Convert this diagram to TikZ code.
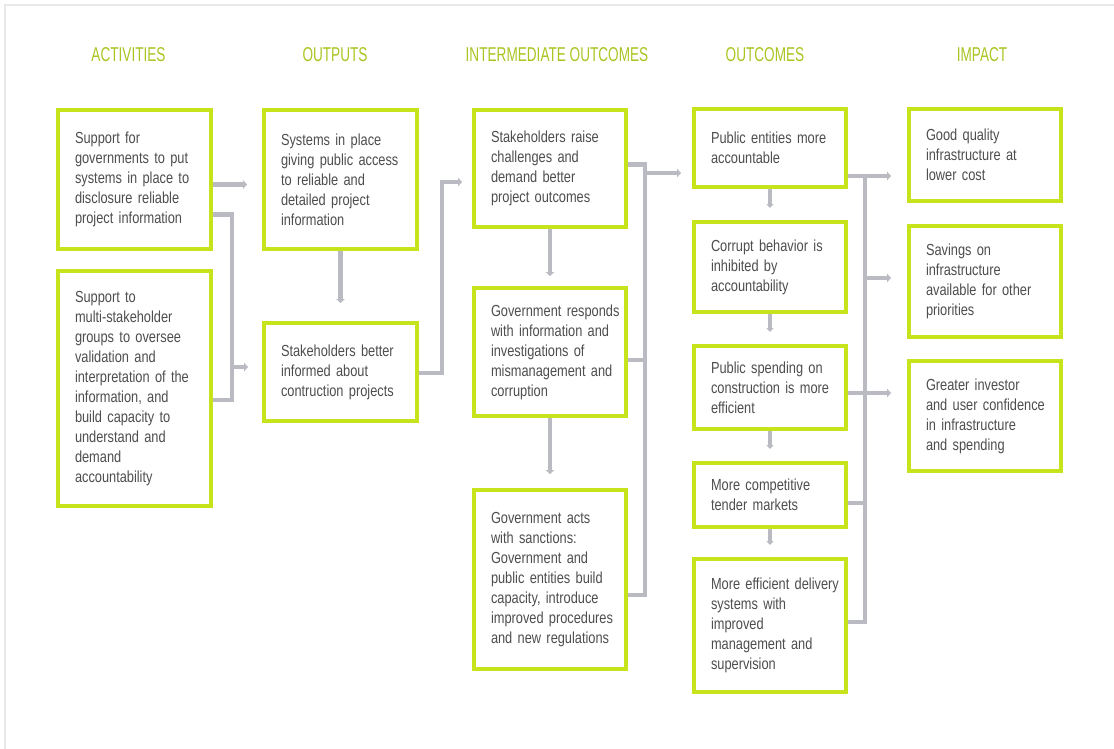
\documentclass[tikz,border=0pt]{standalone}
\usepackage{fontspec}
\setmainfont{Liberation Sans}[FakeStretch=0.8]
\newfontfamily\hdrfont{Liberation Sans}[FakeStretch=0.68]
\usetikzlibrary{arrows.meta,calc}
\definecolor{boxgreen}{HTML}{C6E31B}
\definecolor{hdrgreen}{HTML}{AAC522}
\definecolor{linegray}{HTML}{B9BAC2}
\definecolor{txtgray}{HTML}{4E4E4E}
\definecolor{framegray}{HTML}{E8E8E8}
\begin{document}
\begin{tikzpicture}[x=1pt,y=-1pt,
  hdr/.style={font=\hdrfont\fontsize{20}{22}\selectfont, text=hdrgreen, inner sep=0pt},
  gbox/.style n args={2}{draw=boxgreen, line width=4pt, fill=white, rectangle,
     minimum width=#1pt, minimum height=#2pt, text width=#1pt, inner xsep=0pt, inner ysep=0pt,
     text=txtgray, font=\fontsize{16}{20}\selectfont,
     execute at begin node={\raggedright\leftskip=17pt\relax\hyphenpenalty=10000\exhyphenpenalty=10000\relax}},
  ln/.style={draw=linegray, line width=4.5pt},
  arr/.style={draw=linegray, line width=4.5pt, -{Triangle[length=4pt,width=8.5pt]}},
  sarr/.style={draw=linegray, line width=3.5pt, -{Triangle[length=4pt,width=7pt]}}
]
\useasboundingbox (0,0) rectangle (1114,749);
\fill[white] (0,0) rectangle (1114,749);
\draw[framegray, line width=2pt] (5,749) -- (5,5) -- (1114,5);

% headers
\node[hdr] (h1) at (128.5,55) {ACTIVITIES};
\node[hdr] (h2) at (335,55) {OUTPUTS};
\node[hdr] (h3) at (557,55) {INTERMEDIATE OUTCOMES};
\node[hdr] (h4) at (765,55) {OUTCOMES};
\node[hdr] (h5) at (982,55) {IMPACT};

% activities
\node[gbox={153}{139}] (A1) at (134.5,179.5) {Support for\\governments to put\\systems in place to\\disclosure reliable\\project information};
\node[gbox={153}{235}] (A2) at (134.5,388.5) {Support to\\multi-stakeholder\\groups to oversee\\validation and\\interpretation of the\\information, and\\build capacity to\\understand and\\demand\\accountability};
% outputs
\node[gbox={153}{139}] (O1) at (340.5,179.5) {Systems in place\\giving public access\\to reliable and\\detailed project\\information};
\node[gbox={153}{98}] (O2) at (340.5,372) {Stakeholders better\\informed about\\contruction projects};
% intermediate outcomes
\node[gbox={152}{117}] (I1) at (550,168.5) {Stakeholders raise\\challenges and\\demand better\\project outcomes};
\node[gbox={152}{128}] (I2) at (550,352) {Government responds\\with information and\\investigations of\\mismanagement and\\corruption};
\node[gbox={152}{179}] (I3) at (550,579.5) {Government acts\\with sanctions:\\Government and\\public entities build\\capacity, introduce\\improved procedures\\and new regulations};
% outcomes
\node[gbox={152}{78}] (U1) at (770,148) {Public entities more\\accountable};
\node[gbox={152}{90}] (U2) at (770,267) {Corrupt behavior is\\inhibited by\\accountability};
\node[gbox={152}{83}] (U3) at (770,387.5) {Public spending on\\construction is more\\efficient};
\node[gbox={152}{64}] (U4) at (770,495) {More competitive\\tender markets};
\node[gbox={152}{133}] (U5) at (770,625.5) {More efficient delivery\\systems with\\improved\\management and\\supervision};
% impact
\node[gbox={152}{92}] (P1) at (985,155) {Good quality\\infrastructure at\\lower cost};
\node[gbox={152}{111}] (P2) at (985,281.5) {Savings on\\infrastructure\\available for other\\priorities};
\node[gbox={152}{110}] (P3) at (985,416) {Greater investor\\and user confidence\\in infrastructure\\and spending};

% connectors: activities -> outputs
\draw[arr, shorten >=15pt] ($(A1.east)+(0,5)$) -- ($(O1.west)+(0,5)$);
\coordinate (jA) at ($(A2.east)+(19,0)$);
\draw[ln] ($(A1.east)+(0,35)$) -| ($(jA)+(0,11.5)$) -- ($(A2.east)+(0,11.5)$);
\draw[arr, shorten >=14pt] ($(jA)+(0,-21.5)$) -- ($(O2.west)+(0,-5)$);
% outputs
\draw[arr, shorten >=18pt] (O1.south) -- (O2.north);
\draw[arr, shorten >=10pt] ($(O2.east)+(0,1)$) -- ++(23,0) |- ($(I1.west)+(0,13.5)$);
% intermediate
\draw[arr, shorten >=10pt] (I1.south) -- (I2.north);
\draw[arr, shorten >=14pt] (I2.south) -- (I3.north);
\coordinate (jI) at ($(I1.east)+(17,0)$);
\draw[ln] ($(I1.east)+(0,-4)$) -| ($(I3.east)+(17,15.5)$) -- ($(I3.east)+(0,15.5)$);
\draw[ln] ($(I2.east)+(0,8)$) -- ++(17,0);
\draw[arr, shorten >=11pt] ($(jI)+(0,4.5)$) -- ($(U1.west)+(0,25)$);
% outcomes chain
\draw[sarr, shorten >=12pt] (U1.south) -- (U2.north);
\draw[sarr, shorten >=12pt] (U2.south) -- (U3.north);
\draw[sarr, shorten >=12pt] (U3.south) -- (U4.north);
\draw[sarr, shorten >=12pt] (U4.south) -- (U5.north);
% outcomes -> impact
\coordinate (jU) at ($(U1.east)+(17,0)$);
\draw[ln] ($(jU)+(0,28)$) |- ($(U5.east)+(0,-3.5)$);
\draw[arr, shorten >=16pt] ($(U1.east)+(0,28)$) -- ($(P1.west)+(0,21)$);
\draw[arr, shorten >=16pt] ($(jU |- P2.west)+(0,-3.5)$) -- ($(P2.west)+(0,-3.5)$);
\draw[ln] ($(U3.east)+(0,5.5)$) -- ++(17,0);
\draw[arr, shorten >=16pt] ($(U3.east)+(17,5.5)$) -- ($(P3.west)+(0,-23)$);
\draw[ln] ($(U4.east)+(0,8)$) -- ++(17,0);
\end{tikzpicture}
\end{document}
